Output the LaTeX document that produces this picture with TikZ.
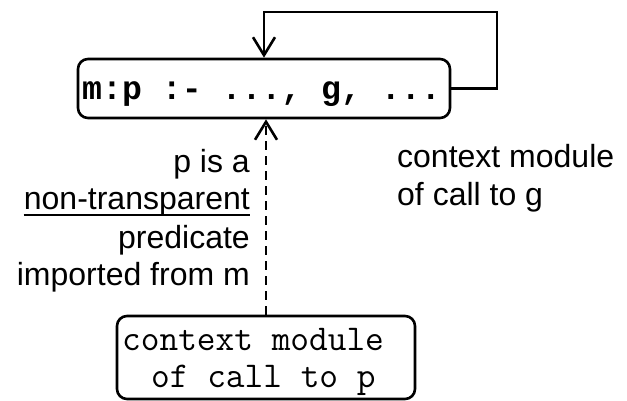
\documentclass[tikz,border=0pt]{standalone}
\usepackage{fontspec}
\setmainfont{Liberation Sans}
\newfontfamily\codefont{Liberation Mono}
\newfontfamily\lightcode{Latin Modern Mono}
\usetikzlibrary{arrows.meta}
\tikzset{
  x=1pt, y=1pt,
  box/.style={draw, line width=2.6pt, rounded corners=10pt, inner sep=0pt},
  code/.style={inner sep=0pt, font=\lightcode\fontsize{36.3}{37}\selectfont},
  codebold/.style={inner sep=0pt, font=\codefont\bfseries\fontsize{33.2}{37}\selectfont},
  label/.style={inner sep=0pt, font=\fontsize{32}{37}\selectfont},
  conn/.style={line width=2.6pt, -{Straight Barb[length=18pt,width=22pt]}},
  dashconn/.style={conn, dash pattern=on 9pt off 6pt},
}
\begin{document}
\begin{tikzpicture}
  \useasboundingbox (0,0) rectangle (627,-401);

  % clause box
  \node[box, minimum width=372pt, minimum height=59pt] (clause) at (264,-88.5) {};
  \node[codebold, anchor=base west] (clausetext) at (82,-100) {m:p :- ..., g, ...};

  % caller box
  \node[box, minimum width=298pt, minimum height=83pt] (caller) at (266,-357.5) {};
  \node[code, anchor=base west] (caller1) at (122,-350) {context module};
  \node[code, anchor=base west] (caller2) at (151,-387) {of call to p};

  % loop back from the body goal to the clause head
  \coordinate (loopcorner) at (497,-12);
  \draw[conn] (clause.east) -| (loopcorner) -| (clause.north);

  % call from the caller into the clause
  \draw[dashconn] (caller.north) -- (caller.north |- clause.south);

  % left-hand explanation
  \node[label, anchor=base east] (l1) at (250,-173) {p is a};
  \node[label, anchor=base east] (l2) at (250,-210) {non-transparent};
  \draw[line width=1.6pt] ([yshift=-5pt]l2.base west) -- ([yshift=-5pt]l2.base east);
  \node[label, anchor=base east] (l3) at (250,-248) {predicate};
  \node[label, anchor=base east] (l4) at (250,-285) {imported from m};

  % right-hand note
  \node[label, anchor=base west] (r1) at (397,-168) {context module};
  \node[label, anchor=base west] (r2) at (397,-205) {of call to g};
\end{tikzpicture}
\end{document}
